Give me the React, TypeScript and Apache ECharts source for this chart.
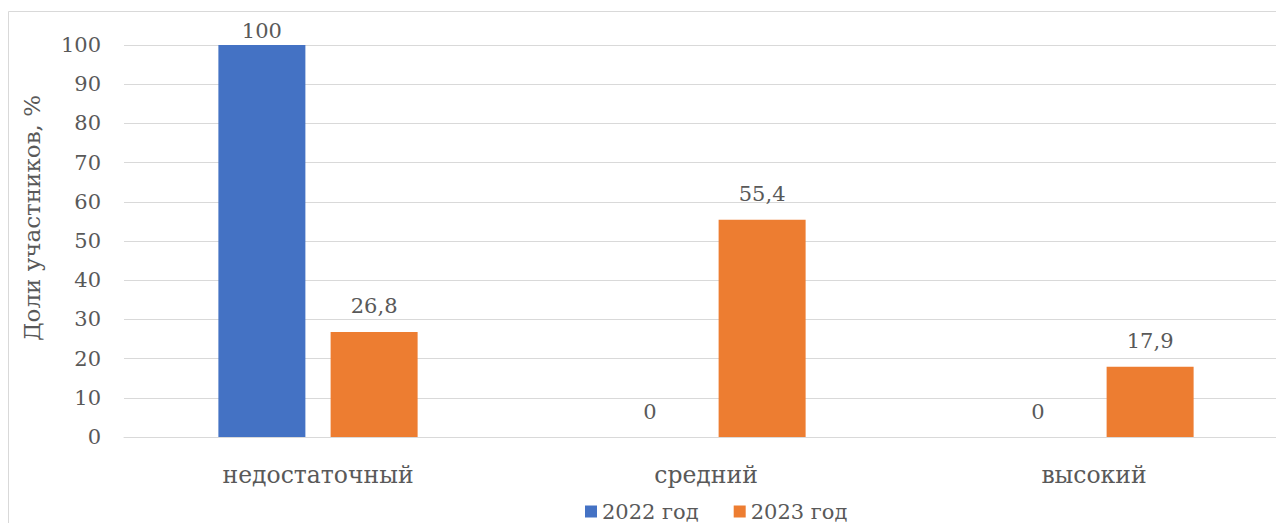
import React, { useEffect, useRef } from "react";
import * as echarts from "echarts";

const categories = ["недостаточный", "средний", "высокий"];
const series2022 = [100, 0, 0];
const series2023 = [26.8, 55.4, 17.9];
const seriesNames = ["2022 год", "2023 год"];
const yTicks = { min: 0, max: 100, interval: 10 };
const axisTitle = "Доли участников, %";

const FONT = "DejaVu Serif";
const FS = 21;
const TEXT = "#595959";

function fmt(v: number) {
  return String(v).replace(".", ",");
}

export default function App() {
  const ref = useRef<HTMLDivElement>(null);
  useEffect(() => {
    if (!ref.current) return;
    const chart = echarts.init(ref.current, undefined, { renderer: "svg" });
    const mk = (vals: number[]) =>
      vals.map((v) => (v >= yTicks.max ? { value: v, label: { distance: 4 } } : v));
    const labelCfg = {
      show: true,
      position: "top" as const,
      distance: 15,
      color: TEXT,
      fontFamily: FONT,
      fontSize: FS,
      formatter: (p: any) => fmt(p.value),
    };
    chart.setOption({
      animation: false,
      textStyle: { fontFamily: FONT },
      grid: { left: 124, top: 45, width: 1164, height: 392, containLabel: false },
      graphic: [
        {
          type: "rect",
          shape: { x: 8.5, y: 11.5, width: 1400, height: 600 },
          style: { fill: "none", stroke: "#d9d9d9", lineWidth: 1 },
          silent: true,
        },
        {
          type: "text",
          x: 32,
          y: 218,
          rotation: Math.PI / 2,
          style: {
            text: axisTitle,
            fill: TEXT,
            fontFamily: FONT,
            fontSize: 23,
            align: "center",
            verticalAlign: "middle",
          },
        },
      ],
      legend: {
        data: seriesNames,
        left: 580,
        top: 496,
        itemWidth: 12,
        itemHeight: 12,
        itemGap: 35,
        icon: "rect",
        textStyle: { color: TEXT, fontFamily: FONT, fontSize: FS },
      },
      xAxis: {
        type: "category",
        data: categories,
        axisLine: { lineStyle: { color: "#d9d9d9", width: 1 } },
        axisTick: { show: false },
        axisLabel: { color: TEXT, fontFamily: FONT, fontSize: 23.5, margin: 26 },
      },
      yAxis: {
        type: "value",
        min: yTicks.min,
        max: yTicks.max,
        interval: yTicks.interval,
        axisLine: { show: false },
        axisTick: { show: false },
        splitLine: { lineStyle: { color: "#d9d9d9", width: 1 } },
        axisLabel: { color: TEXT, fontFamily: FONT, fontSize: FS, margin: 23 },
      },
      series: [
        {
          name: seriesNames[0],
          type: "bar",
          data: mk(series2022),
          barWidth: 87,
          barGap: "29%",
          itemStyle: { color: "#4472C4" },
          label: labelCfg,
        },
        {
          name: seriesNames[1],
          type: "bar",
          data: mk(series2023),
          barWidth: 87,
          barGap: "29%",
          itemStyle: { color: "#ED7D31" },
          label: labelCfg,
        },
      ],
    });
    return () => chart.dispose();
  }, []);
  return (
    <div style={{ position: "fixed", left: 0, top: 0, width: 1276, height: 523, overflow: "hidden", background: "#fff" }}>
      <div ref={ref} style={{ width: 1400, height: 560 }} />
    </div>
  );
}
